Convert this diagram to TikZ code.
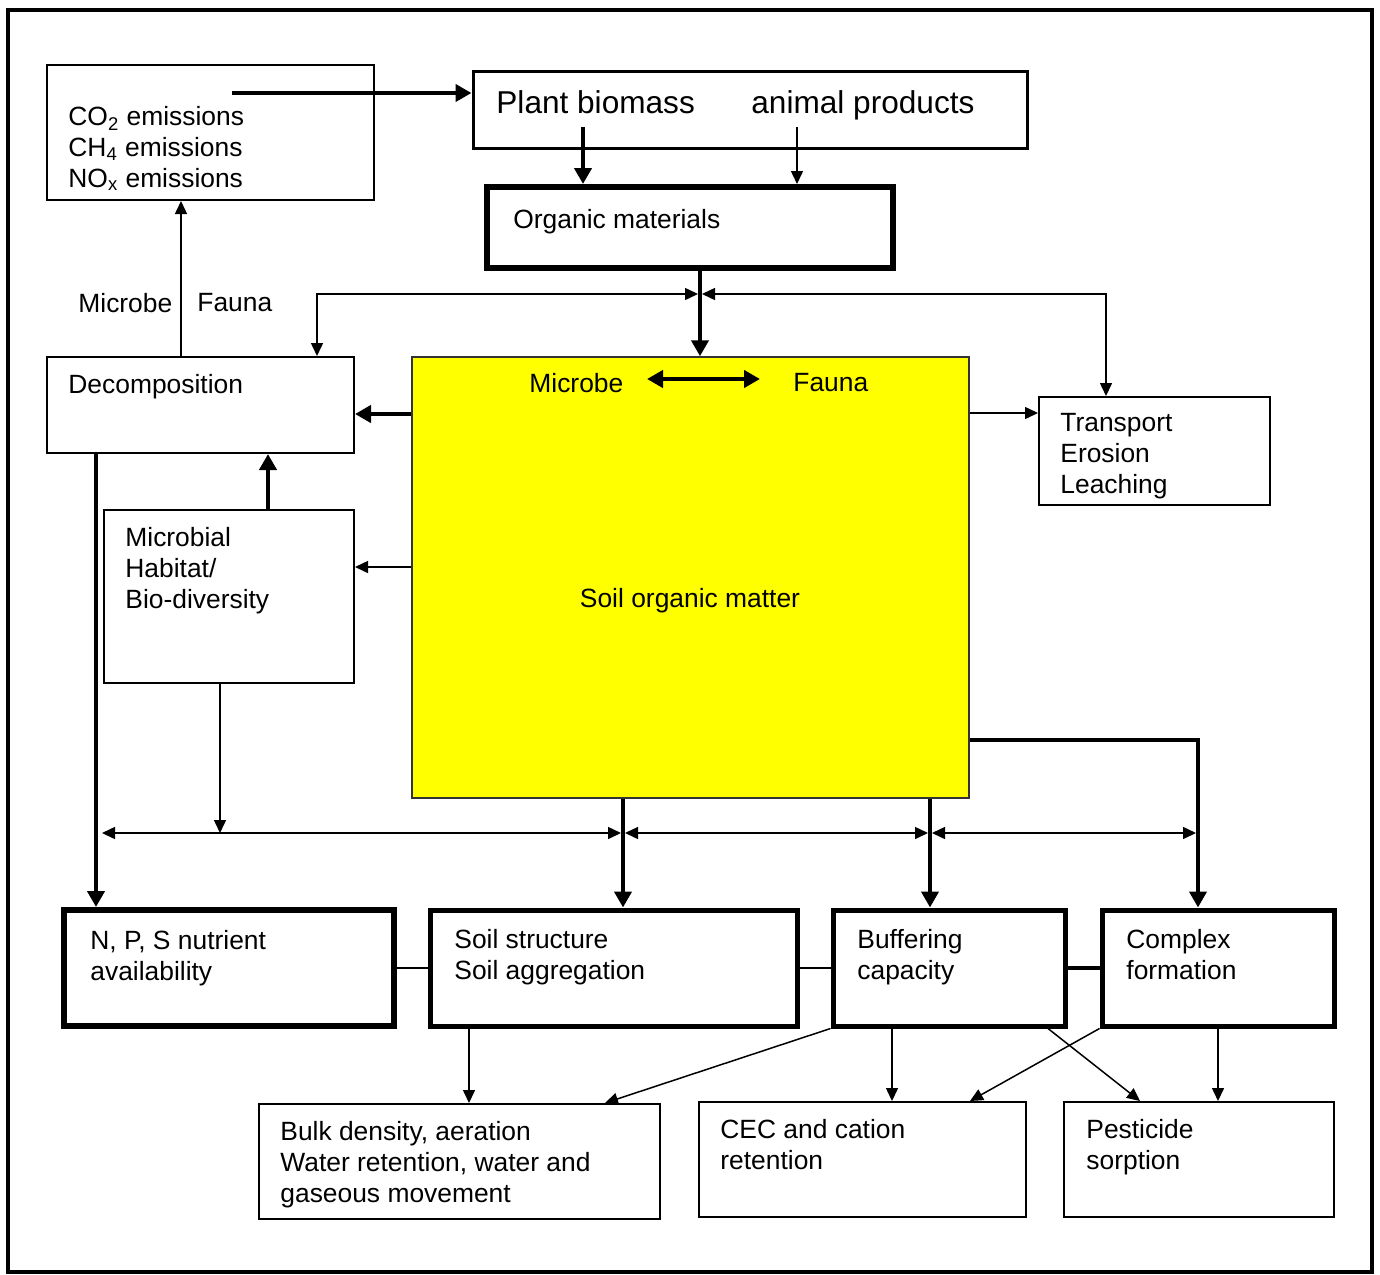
\documentclass[tikz,border=0pt]{standalone}
\usepackage{fontspec}
\setmainfont{Liberation Sans}
\usetikzlibrary{arrows.meta,fit}

\definecolor{somyellow}{RGB}{255,255,0}

\newcommand\fsmain{\fontsize{13.2}{15.4}\selectfont}
\newcommand\fsbig{\fontsize{15.8}{18}\selectfont}

\tikzset{
  box/.style={draw, inner sep=0pt, line width=1pt},
  txt/.style={anchor=north west, align=left, inner sep=0pt, font=\fsmain},
  thinline/.style={line width=0.75pt, >={Triangle[length=6.5pt,width=6pt]}},
  thickline/.style={line width=2pt, >={Triangle[length=8pt,width=8.5pt]}},
}

\begin{document}
\begin{tikzpicture}[x=0.5pt, y=-0.5pt]
  \useasboundingbox (0,0) rectangle (1380,1274);

  % == FRAME ====================================================
  \draw[line width=2pt] (8,10) rectangle (1372,1272);

  % == TOP BOXES ================================================
  \node[box, fit={(47,65) (374,200)}] (emis) {};
  \node[box, line width=1.5pt, fit={(473,71) (1027,148)}] (plant) {};
  \node[box, line width=3pt, fit={(487,187) (893,268)}] (organic) {};

  \node[txt] (emistxt) at (68,106)
    {CO\textsubscript{2} emissions\\CH\textsubscript{4} emissions\\NO\textsubscript{x} emissions};
  \node[txt, font=\fsbig] (biomass) at (496,90) {Plant biomass};
  \node[txt, font=\fsbig] (animal) at (751,90) {animal products};
  \node[txt] (organictxt) at (513,209) {Organic materials};

  % == MIDDLE BOXES =============================================
  \node[box, fill=somyellow, draw=black!80, line width=0.75pt,
        fit={(412,357) (969,798)}] (som) {};
  \node[box, fit={(47,357) (354,453)}] (decomp) {};
  \node[box, fit={(1039,397) (1270,505)}] (transp) {};
  \node[box, fit={(104,510) (354,683)}] (habitat) {};

  \node[txt] (decomptxt) at (68,374) {Decomposition};
  \node[txt] (microbe) at (529,373) {Microbe};
  \node[txt] (fauna) at (793,373) {Fauna};
  \node[anchor=base, inner sep=0pt, font=\fsmain] (somtxt) at (690,607)
    {Soil organic matter};
  \node[txt] (transptxt) at (1060,413) {Transport\\Erosion\\Leaching};
  \node[txt] (habitattxt) at (125,527) {Microbial\\Habitat/\\Bio-diversity};
  \node[txt] (microbelbl) at (78,293) {Microbe};
  \node[txt] (faunalbl) at (197,293) {Fauna};

  % == BOTTOM BOXES =============================================
  \node[box, line width=3pt, fit={(64,910) (394,1026)}] (nps) {};
  \node[box, line width=2.5pt, fit={(430,910) (797,1026)}] (struct) {};
  \node[box, line width=2.5pt, fit={(833,910) (1065,1026)}] (buffer) {};
  \node[box, line width=2.5pt, fit={(1102,910) (1334,1026)}] (complex) {};
  \node[box, fit={(259,1104) (660,1219)}] (bulk) {};
  \node[box, fit={(699,1102) (1026,1217)}] (cec) {};
  \node[box, fit={(1064,1102) (1334,1217)}] (pest) {};

  \node[txt] (npstxt) at (90,930) {N, P, S nutrient\\availability};
  \node[txt] (structtxt) at (454,929) {Soil structure\\Soil aggregation};
  \node[txt] (buffertxt) at (857,929) {Buffering\\capacity};
  \node[txt] (complextxt) at (1126,929) {Complex\\formation};
  \node[txt] (bulktxt) at (280,1121)
    {Bulk density, aeration\\Water retention, water and\\gaseous movement};
  \node[txt] (cectxt) at (720,1119) {CEC and cation\\retention};
  \node[txt] (pesttxt) at (1086,1119) {Pesticide\\sorption};

  % == COORDINATES ==============================================
  \coordinate (emisout) at (232,93);
  \coordinate (biomassout) at (583,127);
  \coordinate (animalout) at (797,127);
  \coordinate (splitL) at (698,294);
  \coordinate (splitR) at (702,294);
  \coordinate (habitatin) at (220,833);
  \coordinate (hleft) at (102,833);
  \coordinate (mfleft) at (647,379);

  % == TOP ARROWS ===============================================
  \draw[thickline, ->] (emisout) -- (emisout -| plant.west);
  \draw[thickline, ->] (biomassout) -- (biomassout |- organic.north);
  \draw[thinline, ->] (animalout) -- (animalout |- organic.north);
  \draw[thickline, ->] (700,0 |- organic.south) -- (700,0 |- som.north);
  \draw[thinline, <->] (splitL) -| (317,0 |- decomp.north);
  \draw[thinline, <->] (splitR) -| (1106,0 |- transp.north);
  \draw[thinline, ->] (181,0 |- decomp.north) -- (181,0 |- emis.south);

  % == SIDE ARROWS ==============================================
  \draw[thickline, <->] (mfleft) -- ([xshift=-16.5pt]mfleft -| fauna.west);
  \draw[thickline, ->] (som.west |- 0,414) -- (decomp.east |- 0,414);
  \draw[thinline, ->] (som.west |- 0,567) -- (habitat.east |- 0,567);
  \draw[thinline, ->] (som.east |- 0,413) -- (transp.west |- 0,413);
  \draw[thickline, ->] (268,0 |- habitat.north) -- (268,0 |- decomp.south);
  \draw[thickline, ->] (96,0 |- decomp.south) -- (96,0 |- nps.north);
  \draw[thinline, ->] (220,0 |- habitat.south) -- (habitatin);

  % == DISTRIBUTION LINE ========================================
  \draw[thinline, <->] (hleft) -- (621,833);
  \draw[thinline, <->] (625,833) -- (928,833);
  \draw[thinline, <->] (932,833) -- (1196,833);
  \draw[thickline, ->] (623,0 |- som.south) -- (623,0 |- struct.north);
  \draw[thickline, ->] (930,0 |- som.south) -- (930,0 |- buffer.north);
  \draw[thickline, ->] (som.east |- 0,740) -| (1198,0 |- complex.north);

  % == ROW LINKS ================================================
  \draw[line width=1pt] (nps.east |- 0,968) -- (struct.west |- 0,968);
  \draw[line width=1pt] (struct.east |- 0,968) -- (buffer.west |- 0,968);
  \draw[line width=2pt] (buffer.east |- 0,968) -- (complex.west |- 0,968);

  % == LOWER ARROWS =============================================
  \draw[thinline, ->] (469,0 |- struct.south) -- (469,0 |- bulk.north);
  \draw[thinline, ->] (buffer.south west) -- (605,0 |- bulk.north);
  \draw[thinline, ->] (892,0 |- buffer.south) -- (892,0 |- cec.north);
  \draw[thinline, ->] (complex.south west) -- (970,0 |- cec.north);
  \draw[thinline, ->] (1048,0 |- buffer.south) -- (1140,0 |- pest.north);
  \draw[thinline, ->] (1218,0 |- complex.south) -- (1218,0 |- pest.north);

\end{tikzpicture}
\end{document}
